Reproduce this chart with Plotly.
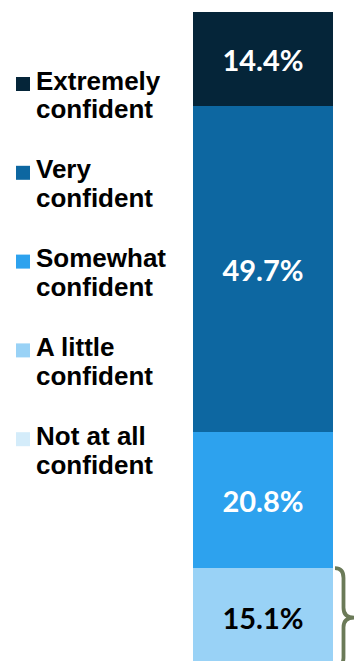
import plotly.graph_objects as go

# ---- data (bottom of stack first) ----
categories = ["Not at all confident", "A little confident", "Somewhat confident",
              "Very confident", "Extremely confident"]
legend_line1 = ["Not at all", "A little", "Somewhat", "Very", "Extremely"]
legend_line2 = ["confident", "confident", "confident", "confident", "confident"]
values = [0.0, 15.1, 20.8, 49.7, 14.4]
value_labels = ["", "15.1%", "20.8%", "49.7%", "14.4%"]
colors = ["#D4ECFA", "#99D2F6", "#2DA2EE", "#0D67A1", "#052539"]
label_colors = ["#000000", "#000000", "#FFFFFF", "#FFFFFF", "#FFFFFF"]

# the page body has an 8px margin: size/offset the figure to fill the window
OFF = 8
W, H = 362 - OFF, 661 - OFF
PX_PER_UNIT = 6.55
TOP_PX = 12 - OFF
BAR_L, BAR_R = 193 - OFF, 333 - OFF
BAR_W = BAR_R - BAR_L

fig = go.Figure()
for cat, v, lab, col, lc in zip(categories, values, value_labels, colors, label_colors):
    fig.add_trace(go.Bar(
        x=[0], y=[v], name=cat, width=1,
        marker=dict(color=col, line=dict(width=0)),
        text=[lab], textposition="inside", insidetextanchor="middle",
        textfont=dict(family="Lato", size=29, color=lc, weight="bold"),
        constraintext="none", showlegend=False, hoverinfo="skip",
    ))

total = sum(values)
y_top = total + TOP_PX / PX_PER_UNIT
y_bot = total - (H - TOP_PX) / PX_PER_UNIT
x_left = -0.5 - BAR_L / BAR_W
x_right = 0.5 + (W - BAR_R) / BAR_W

def px_to_x(px):
    return x_left + (px - OFF) / BAR_W

shapes = []
annotations = []
# custom legend, top to bottom
order = list(range(len(categories)))[::-1]
for k, i in enumerate(order):
    sq_top = 77 + k * 88.8 - OFF
    shapes.append(dict(type="rect", xref="paper", yref="paper",
                       x0=(16 - OFF) / W, x1=(30 - OFF) / W,
                       y0=1 - (sq_top + 14) / H, y1=1 - sq_top / H,
                       fillcolor=colors[i], line=dict(width=0)))
    for j, txt in enumerate([legend_line1[i], legend_line2[i]]):
        yc = 80.5 + k * 88.8 + j * 29 - OFF
        annotations.append(dict(
            xref="paper", yref="paper", x=(34 - OFF) / W, y=1 - yc / H,
            xanchor="left", yanchor="middle", text=txt, showarrow=False,
            font=dict(family="Liberation Sans", size=26, color="#000000", weight="bold"),
        ))

# brace next to the "A little" + "Not at all" segments
b_top = values[0] + values[1]
b_bot = 0.0
b_mid = (b_top + b_bot) / 2
u = 1.5  # curve height in data units
x0, x1, x2 = px_to_x(335), px_to_x(343.5), px_to_x(354)
path = (f"M {x0},{b_top} Q {x1},{b_top} {x1},{b_top - u} "
        f"L {x1},{b_mid + u} Q {x1},{b_mid} {x2},{b_mid} "
        f"Q {x1},{b_mid} {x1},{b_mid - u} "
        f"L {x1},{b_bot + u} Q {x1},{b_bot} {x0},{b_bot}")
shapes.append(dict(type="path", xref="x", yref="y", path=path,
                   line=dict(color="#6B7A58", width=3.8)))

fig.update_layout(
    width=W, height=H, margin=dict(l=0, r=0, t=0, b=0),
    paper_bgcolor="white", plot_bgcolor="white",
    barmode="stack", bargap=0,
    xaxis=dict(domain=[0, 1], range=[x_left, x_right], visible=False, fixedrange=True),
    yaxis=dict(range=[y_bot, y_top], visible=False, fixedrange=True),
    shapes=shapes, annotations=annotations, showlegend=False,
)

fig.write_html("out.html")
